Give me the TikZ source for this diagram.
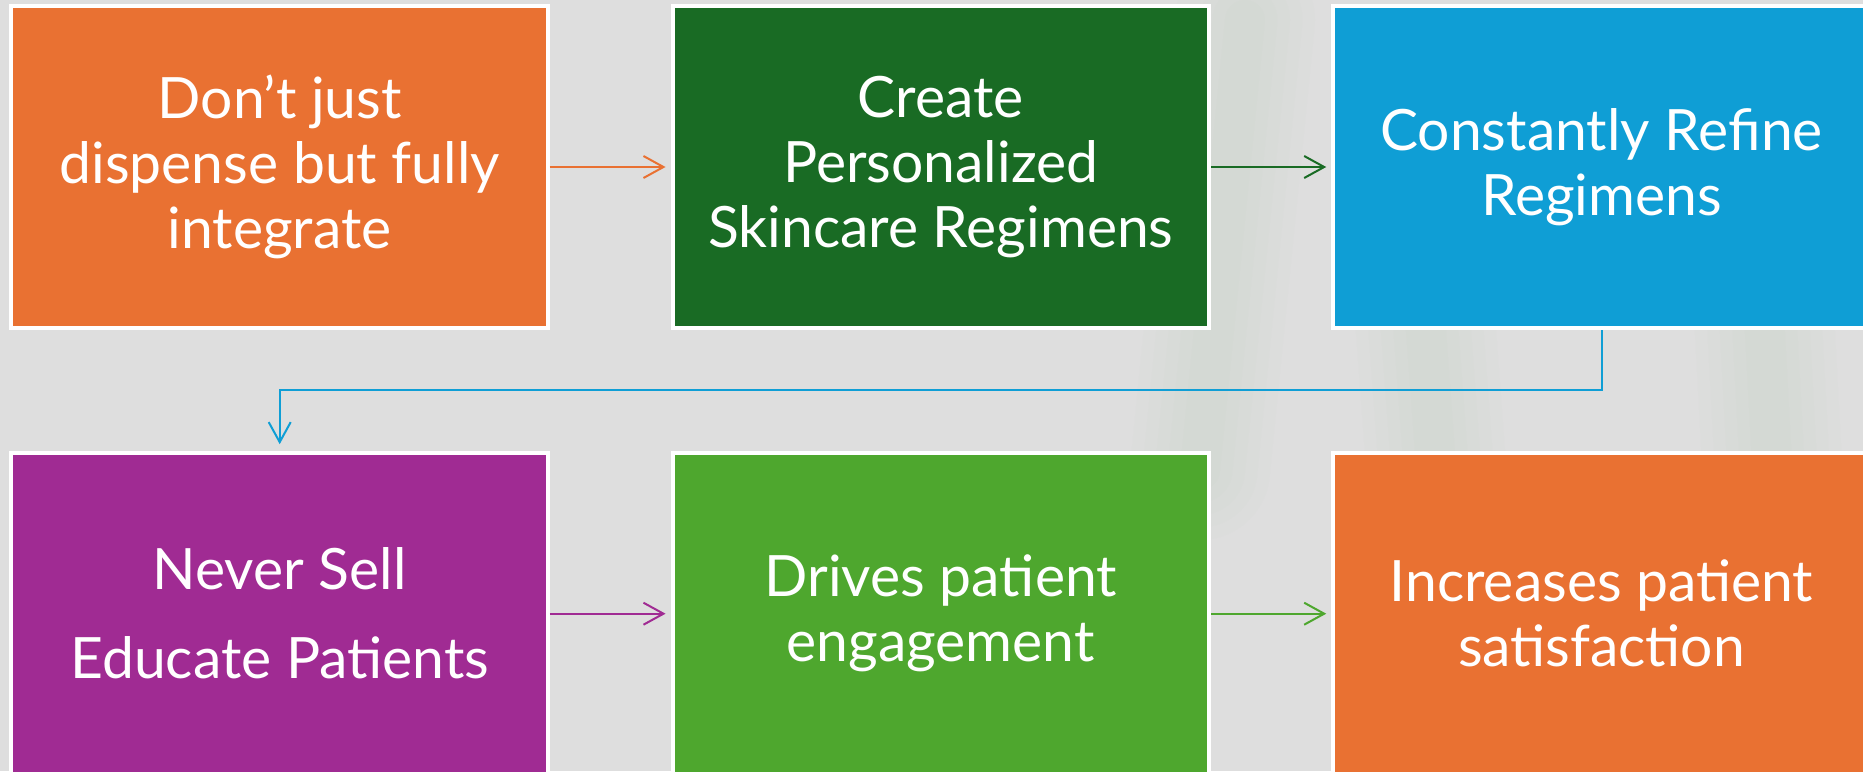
\documentclass[tikz,border=0pt]{standalone}
\usepackage{fontspec}
\setmainfont{Lato}
\usetikzlibrary{arrows.meta}
\definecolor{bg}{HTML}{DEDEDE}
\definecolor{cOrange}{HTML}{E97132}
\definecolor{cDGreen}{HTML}{196B24}
\definecolor{cBlue}{HTML}{0F9ED5}
\definecolor{cPurple}{HTML}{A02B93}
\definecolor{cLGreen}{HTML}{4EA72E}
\definecolor{haze}{HTML}{C2CFC0}
\begin{document}
\begin{tikzpicture}[x=1pt,y=-1pt,
  stepbox/.style={draw=white, line width=4pt, minimum width=536.5pt, minimum height=322pt,
    inner sep=0pt, text=white, align=center, font=\fontsize{57}{65}\selectfont},
  flow/.style={line width=2pt, -{Straight Barb[length=20pt,width=22pt,line width=2pt]}, shorten >=5pt},
  hazeline/.style={haze, line cap=round}
]
\useasboundingbox (0,0) rectangle (1863,771);
\clip (0,0) rectangle (1863,771);
\fill[bg] (0,0) rectangle (1863,771);
% faint background haze (soft near-vertical streaks)
\foreach \w/\o in {140/0.05,115/0.05,90/0.06,65/0.06,40/0.07}{
  \draw[hazeline, line width=\w pt, opacity=\o] (1245,20) -- (1200,470);
  \draw[hazeline, line width=\w pt, opacity=\o] (1420,250) -- (1440,520);
  \draw[hazeline, line width=\w pt, opacity=\o] (1760,240) -- (1775,520);
}
\node[stepbox, fill=cOrange] (b1) at (279.7,167) {Don’t just\\dispense but fully\\integrate};
\node[stepbox, fill=cDGreen] (b2) at (940.8,167) {Create\\Personalized\\Skincare Regimens};
\node[stepbox, fill=cBlue] (b3) at (1601.5,167) {Constantly Refine\\Regimens};
\node[stepbox, fill=cPurple] (b4) at (279.7,613.7) {Never Sell\\[24pt]Educate Patients};
\node[stepbox, fill=cLGreen] (b5) at (940.8,613.7) {Drives patient\\engagement};
\node[stepbox, fill=cOrange] (b6) at (1601.5,613.7) {Increases patient\\satisfaction};
\draw[flow, cOrange] (b1.east) -- (b2.west);
\draw[flow, cDGreen] (b2.east) -- (b3.west);
\draw[flow, cBlue, shorten >=6.5pt] (b3.south) -- ++(0,60) -| (b4.north);
\draw[flow, cPurple] (b4.east) -- (b5.west);
\draw[flow, cLGreen] (b5.east) -- (b6.west);
\end{tikzpicture}
\end{document}
